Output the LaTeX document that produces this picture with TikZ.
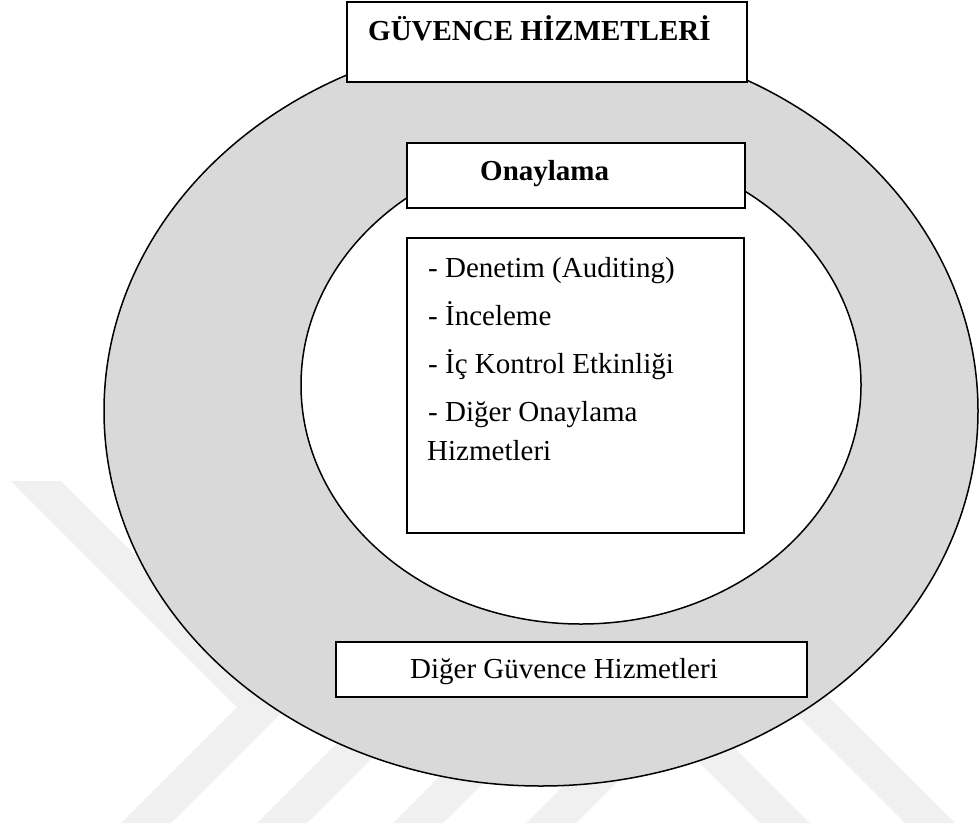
\documentclass[tikz,border=0pt]{standalone}
\usepackage{fontspec}
\setmainfont{Liberation Serif}
\begin{document}
\begin{tikzpicture}[x=1pt,y=-1pt,
  wmark/.style={fill=black!6,draw=none},
  ring/.style={draw=black,line width=1.5pt},
  boxshape/.style={draw=black,fill=white,line width=1.5pt,rectangle,inner sep=0pt},
  txt/.style={inner sep=0pt,anchor=base west,font=\fontsize{29}{38}\selectfont},
  btxt/.style={txt,font=\fontsize{29}{38}\selectfont\bfseries}]
\useasboundingbox (0,0) rectangle (979,830);
\fill[white] (0,0) rectangle (979,830);
% watermark
\begin{scope}
\clip (0,481) rectangle (979,823);
\fill[wmark] (11,481) -- (237,707) -- (121,823) -- (171,823) -- (287,707) -- (61,481) -- cycle;
\fill[wmark] (257,823) -- (307,823) -- (707,423) -- (657,423) -- cycle;
\fill[wmark] (393,823) -- (443,823) -- (843,423) -- (793,423) -- cycle;
\fill[wmark] (526,823) -- (576,823) -- (976,423) -- (926,423) -- cycle;
\fill[wmark] (760,823) -- (810,823) -- (410,423) -- (360,423) -- cycle;
\fill[wmark] (905,823) -- (955,823) -- (555,423) -- (505,423) -- cycle;
\end{scope}
% rings
\draw[ring,fill=black!15] (541,411) ellipse [x radius=437, y radius=375];
\draw[ring,fill=white] (581,385) ellipse [x radius=280, y radius=239];
% boxes
\node[boxshape,minimum width=400pt,minimum height=80pt] (top) at (547,42) {};
\node[boxshape,minimum width=338pt,minimum height=65pt] (ona) at (576,175.5) {};
\node[boxshape,minimum width=337pt,minimum height=295pt] (list) at (575.5,385.5) {};
\node[boxshape,minimum width=471pt,minimum height=55pt] (diger) at (571.5,669.5) {};
% texts
\node[btxt] (toptxt) at (368,40) {GÜVENCE HİZMETLERİ};
\node[btxt] (onatxt) at (480,180) {Onaylama};
\node[txt] (l1) at (428,277) {- Denetim (Auditing)};
\node[txt] (l2) at (428,325) {- İnceleme};
\node[txt] (l3) at (428,373) {- İç Kontrol Etkinliği};
\node[txt] (l4) at (428,421) {- Diğer Onaylama};
\node[txt] (l5) at (427,460) {Hizmetleri};
\node[txt] (digertxt) at (410,678) {Diğer Güvence Hizmetleri};
\end{tikzpicture}
\end{document}
